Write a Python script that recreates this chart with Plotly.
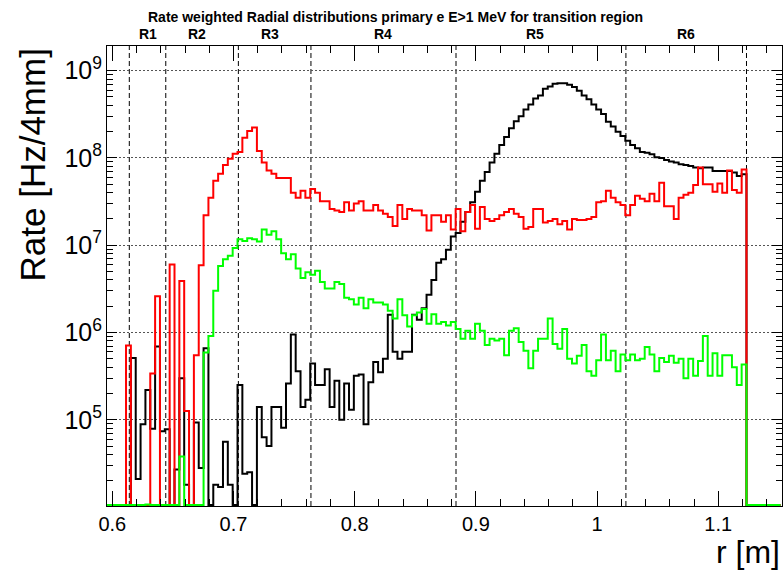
import numpy as np
import plotly.graph_objects as go

# ---------------- data ----------------
bin_start = 0.5953   # m
bin_width = 0.004    # m (4 mm)
n_bins = 139

rate_all = [
    0, 0, 0, 0, 0, 5.1e5, 2.1e4, 8.9e4, 2.2e5, 7.9e4,
    6.9e5, 7.4e4, 7.8e4, 0, 2.7e4, 3.0e5, 1.8e4, 0, 9.3e4, 2.8e4,
    6.6e5, 0, 1.8e4, 1.7e4, 5.6e4, 1.8e4, 0, 2.5e5, 2.4e4, 2.5e4,
    0, 1.4e5, 6.3e4, 5.0e4, 1.4e5, 1.4e5, 8.1e4, 2.6e5, 9.5e5, 3.6e5,
    1.4e5, 1.7e5, 4.4e5, 2.5e5, 2.5e5, 3.8e5, 1.4e5, 2.8e5, 1.0e5, 2.6e5,
    1.3e5, 3.2e5, 3.3e5, 8.9e4, 2.7e5, 4.6e5, 3.5e5, 5.0e5, 1.6e6, 6.0e5,
    5.0e5, 6.0e5, 6.0e5, 1.6e6, 1.4e6, 1.9e6, 2.7e6, 4.0e6, 6.3e6, 6.9e6,
    8.9e6, 1.26e7, 1.38e7, 1.86e7, 2.4e7, 3.1e7, 4.1e7, 5.5e7, 6.9e7, 8.9e7,
    1.12e8, 1.41e8, 1.74e8, 2.19e8, 2.63e8, 3.0e8, 3.6e8, 4.1e8, 4.8e8, 5.2e8,
    6.2e8, 6.6e8, 7.1e8, 7.2e8, 7.2e8, 6.9e8, 6.5e8, 5.9e8, 5.2e8, 4.7e8,
    4.1e8, 3.6e8, 3.2e8, 2.6e8, 2.3e8, 2.0e8, 1.78e8, 1.58e8, 1.41e8, 1.29e8,
    1.17e8, 1.15e8, 1.10e8, 1.02e8, 1.00e8, 9.5e7, 9.1e7, 8.9e7, 8.5e7, 8.3e7,
    8.1e7, 7.8e7, 7.6e7, 7.8e7, 7.8e7, 7.1e7, 7.1e7, 7.1e7, 7.1e7, 6.8e7,
    6.2e7, 6.5e7, 0, 0, 0, 0, 0, 0, 0,
]

rate_red = [
    0, 0, 0, 0, 7.1e5, 0, 0, 0, 0, 3.4e5,
    2.6e6, 0, 0, 6.0e6, 0, 3.9e6, 1.26e5, 0, 5.5e5, 5.9e6,
    2.2e7, 3.5e7, 5.5e7, 6.6e7, 8.3e7, 9.8e7, 1.12e8, 1.17e8, 1.70e8, 2.04e8,
    2.24e8, 1.20e8, 8.9e7, 7.2e7, 6.6e7, 5.9e7, 5.9e7, 5.9e7, 4.0e7, 3.5e7,
    4.2e7, 3.5e7, 4.4e7, 4.0e7, 3.2e7, 3.2e7, 2.6e7, 2.5e7, 2.4e7, 3.1e7,
    2.5e7, 3.0e7, 3.2e7, 2.5e7, 2.5e7, 2.9e7, 2.5e7, 2.3e7, 2.1e7, 1.66e7,
    2.9e7, 2.0e7, 2.6e7, 2.5e7, 2.5e7, 2.2e7, 1.48e7, 2.2e7, 2.2e7, 1.86e7,
    2.2e7, 1.51e7, 2.6e7, 1.45e7, 2.4e7, 2.9e7, 1.55e7, 2.75e7, 2.0e7, 1.9e7,
    2.0e7, 2.2e7, 2.4e7, 2.6e7, 2.3e7, 2.1e7, 1.55e7, 1.62e7, 2.6e7, 2.6e7,
    1.82e7, 1.9e7, 2.0e7, 1.74e7, 1.9e7, 1.51e7, 2.0e7, 1.95e7, 1.95e7, 2.0e7,
    2.1e7, 3.1e7, 3.2e7, 4.2e7, 3.5e7, 3.1e7, 2.9e7, 2.2e7, 2.9e7, 3.7e7,
    3.4e7, 3.2e7, 3.9e7, 3.2e7, 5.2e7, 2.8e7, 2.8e7, 2.0e7, 3.5e7, 3.8e7,
    4.0e7, 4.9e7, 7.8e7, 5.0e7, 5.0e7, 4.1e7, 5.1e7, 4.0e7, 7.2e7, 4.3e7,
    4.0e7, 7.4e7, 0, 0, 0, 0, 0, 0, 0,
]

rate_green = [
    0, 0, 0, 0, 0, 0, 0, 0, 1.07e4, 0,
    0, 0, 0, 0, 0, 3.8e4, 0, 0, 0, 0,
    5.9e5, 9.1e5, 3.0e6, 5.8e6, 6.9e6, 7.6e6, 9.3e6, 1.17e7, 1.12e7, 1.20e7,
    1.17e7, 1.10e7, 1.51e7, 1.32e7, 1.45e7, 1.17e7, 8.1e6, 6.9e6, 7.9e6, 5.4e6,
    4.2e6, 4.9e6, 4.6e6, 5.1e6, 3.8e6, 3.2e6, 3.2e6, 3.8e6, 3.6e6, 2.5e6,
    2.4e6, 2.1e6, 2.5e6, 1.9e6, 2.4e6, 2.2e6, 2.2e6, 2.1e6, 1.78e6, 1.45e6,
    2.4e6, 1.58e6, 1.17e6, 1.58e6, 1.7e6, 1.86e6, 1.26e6, 1.62e6, 1.26e6, 1.32e6,
    1.2e6, 1.32e6, 1.1e6, 8.5e5, 1.05e6, 8.5e5, 1.26e6, 1.05e6, 7.2e5, 8.5e5,
    8.1e5, 8.5e5, 5.5e5, 1.05e6, 1.12e6, 7.8e5, 6.2e5, 3.9e5, 6.2e5, 8.5e5,
    8.5e5, 1.45e6, 7.4e5, 6.5e5, 1.1e6, 5.0e5, 4.4e5, 5.4e5, 7.2e5, 3.6e5,
    3.2e5, 4.8e5, 9.5e5, 4.8e5, 6.2e5, 3.6e5, 5.6e5, 4.8e5, 5.6e5, 4.8e5,
    5.0e5, 6.8e5, 5.6e5, 3.6e5, 5.1e5, 4.6e5, 5.4e5, 4.5e5, 5.0e5, 3.0e5,
    5.0e5, 3.2e5, 4.7e5, 9.1e5, 3.2e5, 5.8e5, 3.2e5, 5.5e5, 5.5e5, 4.0e5,
    2.5e5, 4.3e5, 0, 0, 0, 0, 0, 0, 0,
]

region_edges = [0.6140, 0.6441, 0.7040, 0.7639, 0.8836, 1.0238, 1.1233]
region_names = ["R1", "R2", "R3", "R4", "R5", "R6"]
region_label_x = [0.6295, 0.6699, 0.7301, 0.8234, 0.9488, 1.0734]

x_tick_vals = [0.6, 0.7, 0.8, 0.9, 1.0, 1.1]
x_tick_text = ["0.6", "0.7", "0.8", "0.9", "1", "1.1"]

title_text = "Rate weighted Radial distributions primary e E>1 MeV for transition region"

# ---------------- plotting ----------------
X_RANGE = [0.5956, 1.1526]
Y_LOG_RANGE = [4.012, 9.283]
FONT = "Liberation Sans, Arial, Helvetica, sans-serif"
W, H = 784, 571
ML, MR, MT, MB = 107, 2, 46, 65
PW, PH = W - ML - MR, H - MT - MB

edges = bin_start + bin_width * np.arange(n_bins + 1)
floor_val = 10 ** (Y_LOG_RANGE[0] + 0.012)


def step_xy(vals):
    v = [x if x > floor_val else floor_val for x in vals]
    return list(edges), v + [v[-1]]


def px_to_paper_x(px):
    return (px - ML) / PW


def px_to_paper_y(py):
    return 1 - (py - MT) / PH


fig = go.Figure()
for vals, col in [(rate_all, "#000000"), (rate_red, "#ff0000"), (rate_green, "#00ff00")]:
    xs, ys = step_xy(vals)
    fig.add_trace(go.Scatter(x=xs, y=ys, mode="lines",
                             line=dict(color=col, width=2, shape="hv"),
                             showlegend=False, hoverinfo="skip"))

for xe in region_edges:
    fig.add_shape(type="line", xref="x", yref="paper", x0=xe, x1=xe, y0=0, y1=1,
                  line=dict(color="black", width=1, dash="5px,3px"), layer="below")

for name, xl in zip(region_names, region_label_x):
    fig.add_annotation(x=xl, xref="x", y=px_to_paper_y(34), yref="paper",
                       yanchor="middle", xanchor="center",
                       text="<b>%s</b>" % name, showarrow=False,
                       font=dict(family=FONT, size=14, color="black"))

fig.add_annotation(x=px_to_paper_x(395), xref="paper", y=px_to_paper_y(17), yref="paper",
                   yanchor="middle", xanchor="center",
                   text="<b>%s</b>" % title_text, showarrow=False,
                   font=dict(family=FONT, size=14, color="black"))

fig.add_annotation(x=px_to_paper_x(32), xref="paper", y=px_to_paper_y(47), yref="paper",
                   xanchor="center", yanchor="top", textangle=-90,
                   text="Rate [Hz/4mm]", showarrow=False,
                   font=dict(family=FONT, size=35, color="black"))
fig.add_annotation(x=px_to_paper_x(782), xref="paper", y=px_to_paper_y(552), yref="paper",
                   xanchor="right", yanchor="middle",
                   text="r [m]", showarrow=False,
                   font=dict(family=FONT, size=32, color="black"))

fig.update_xaxes(range=X_RANGE, showgrid=False, zeroline=False, automargin=False,
                 showline=True, linecolor="black", linewidth=1, mirror="ticks",
                 ticks="inside", ticklen=15, tickwidth=1, tickcolor="black",
                 tickmode="array", tickvals=x_tick_vals, ticktext=x_tick_text,
                 tickfont=dict(family=FONT, size=20, color="black"),
                 minor=dict(tickmode="linear", tick0=0, dtick=0.02, ticks="inside",
                            ticklen=7, tickwidth=1, tickcolor="black", showgrid=False))

fig.update_yaxes(type="log", range=Y_LOG_RANGE, zeroline=False, automargin=False,
                 showline=True, linecolor="black", linewidth=1, mirror="ticks",
                 ticks="inside", ticklen=10, tickwidth=1, tickcolor="black",
                 tickmode="linear", tick0=0, dtick=1, exponentformat="power",
                 showexponent="all",
                 tickfont=dict(family=FONT, size=20, color="black"),
                 showgrid=True, gridcolor="#555555", griddash="2px,2px", gridwidth=1,
                 minor=dict(dtick="D1", ticks="inside", ticklen=6, tickwidth=1,
                            tickcolor="black", showgrid=False))

fig.update_layout(width=W, height=H,
                  margin=dict(l=ML, r=MR, t=MT, b=MB, pad=0),
                  paper_bgcolor="white", plot_bgcolor="white",
                  font=dict(family=FONT, color="black"))

fig.write_html("out.html", config={"displayModeBar": False},
               post_script="document.body.style.margin='0';document.body.style.overflow='hidden';")
